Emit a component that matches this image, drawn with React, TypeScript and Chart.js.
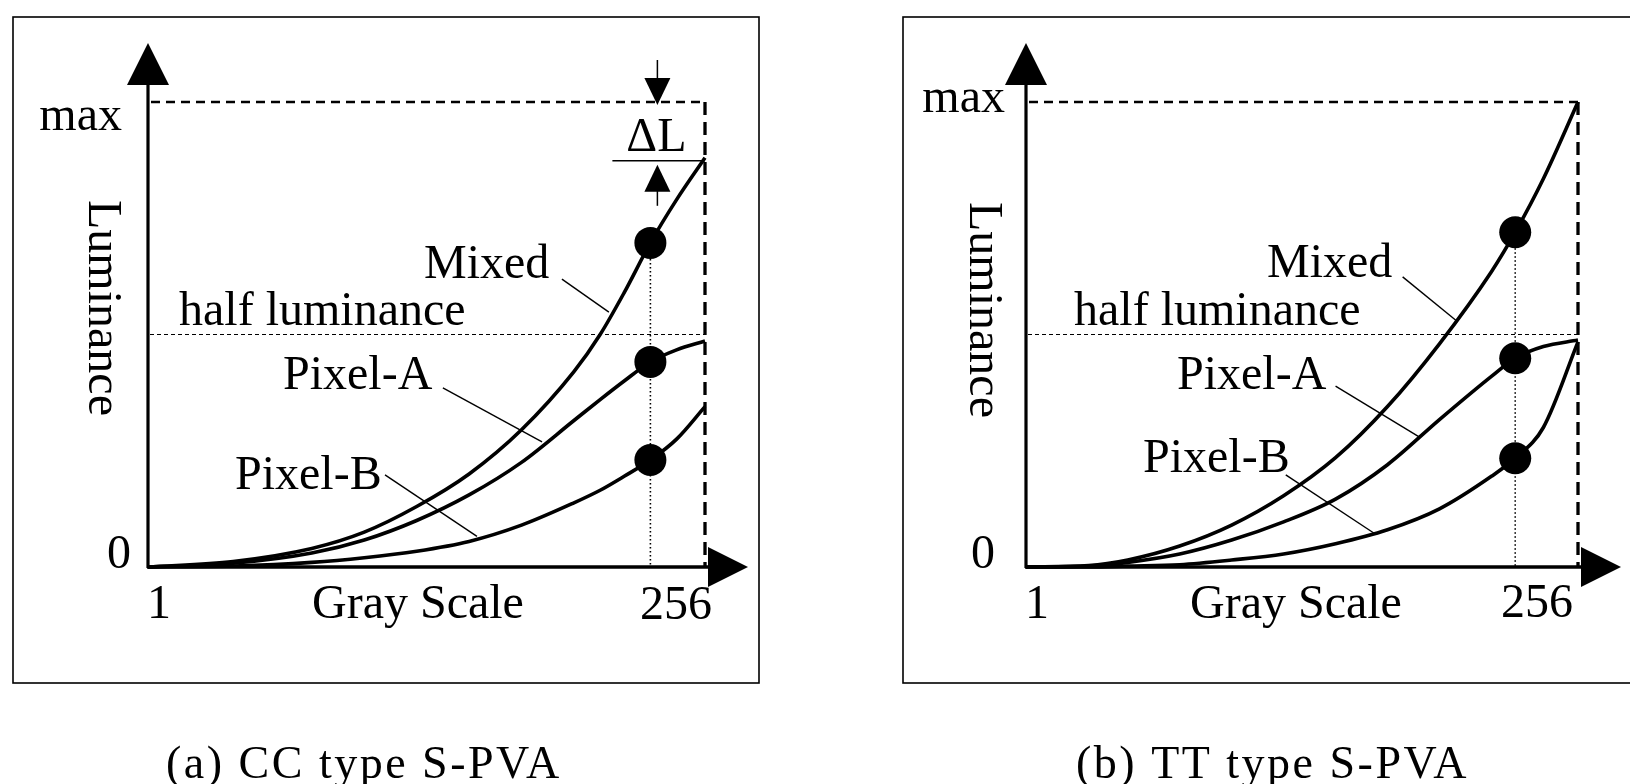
import React, { useEffect, useRef } from 'react';
import { Chart, registerables } from 'chart.js';
Chart.register(...registerables);

// ---------- DATA ----------
const seriesNames = ['Mixed', 'Pixel-A', 'Pixel-B'];
const xTickLabels = ['1', '256'];
const yTickLabels = ['0', 'max'];
const xTitle = 'Gray Scale';
const yTitle = 'Luminance';
const halfLabel = 'half luminance';
const halfLevel = 0.5;
const captions = ['(a) CC type S-PVA', '(b) TT type S-PVA'];

// (a) CC type
const grayCC = [1, 40, 76, 100, 124, 148, 172, 196, 208, 219, 231, 243, 256];
const mixedCC = [0, 0.012, 0.04, 0.075, 0.13, 0.2, 0.295, 0.42, 0.5, 0.59, 0.697, 0.79, 0.88];
const pixelACC = [0, 0.008, 0.03, 0.058, 0.1, 0.155, 0.225, 0.315, 0.36, 0.4, 0.441, 0.467, 0.486];
const pixelBCC = [0, 0.002, 0.01, 0.02, 0.034, 0.055, 0.09, 0.138, 0.165, 0.195, 0.23, 0.275, 0.345];
const markerGrayCC = 231;
const markerLumCC = [0.697, 0.441, 0.23];
// leader lines [gray1, lum1, gray2, lum2]
const leadersCC = [
  [190.5, 0.619, 212, 0.548],
  [136, 0.385, 181.4, 0.269],
  [109.5, 0.198, 151.6, 0.066],
];

// (b) TT type
const grayTT = [1, 30, 48, 72, 96, 120, 144, 168, 192, 216, 227, 240, 256];
const mixedTT = [0, 0.003, 0.015, 0.045, 0.09, 0.153, 0.235, 0.345, 0.48, 0.635, 0.72, 0.835, 1.0];
const pixelATT = [0, 0.002, 0.01, 0.028, 0.058, 0.097, 0.146, 0.22, 0.317, 0.41, 0.449, 0.474, 0.488];
const pixelBTT = [0, 0, 0.002, 0.005, 0.015, 0.028, 0.05, 0.08, 0.125, 0.195, 0.234, 0.3, 0.484];
const markerGrayTT = 227;
const markerLumTT = [0.72, 0.449, 0.234];
const leadersTT = [
  [175, 0.624, 199.7, 0.53],
  [144, 0.389, 182.6, 0.28],
  [121, 0.198, 162, 0.072],
];

// ---------- LAYOUT ----------
const W = 1630;
const H = 784;
const FONT = '48px "Liberation Serif", "Times New Roman", serif';

const layoutCC = {
  frame: [13, 17, 759, 683],
  area: { left: 148, top: 102, right: 705, bottom: 567 },
  maxLabel: [122, 130],
  zeroLabel: [131, 568],
  oneLabel: [147, 618],
  endLabel: [712, 619],
  xTitle: [312, 618],
  yTitle: [89, 308],
  seriesLabels: [[424, 278], [283, 389], [235, 489]],
  halfLabel: [179, 325],
  caption: [166, 778],
  delta: true,
};

const layoutTT = {
  frame: [903, 17, 1645, 683],
  area: { left: 1026, top: 102, right: 1578, bottom: 567 },
  maxLabel: [1005, 112],
  zeroLabel: [995, 568],
  oneLabel: [1025, 618],
  endLabel: [1573, 617],
  xTitle: [1190, 618],
  yTitle: [970, 310],
  seriesLabels: [[1267, 277], [1177, 389], [1143, 472]],
  halfLabel: [1074, 325],
  caption: [1076, 778],
  delta: false,
};

type Panel = {
  gray: number[];
  series: number[][];
  markerGray: number;
  markerLum: number[];
  leaders: number[][];
  layout: typeof layoutCC;
  caption: string;
};

const panels: Panel[] = [
  { gray: grayCC, series: [mixedCC, pixelACC, pixelBCC], markerGray: markerGrayCC, markerLum: markerLumCC, leaders: leadersCC, layout: layoutCC, caption: captions[0] },
  { gray: grayTT, series: [mixedTT, pixelATT, pixelBTT], markerGray: markerGrayTT, markerLum: markerLumTT, leaders: leadersTT, layout: layoutTT, caption: captions[1] },
];

function tri(ctx: CanvasRenderingContext2D, pts: number[][]) {
  ctx.beginPath();
  ctx.moveTo(pts[0][0], pts[0][1]);
  ctx.lineTo(pts[1][0], pts[1][1]);
  ctx.lineTo(pts[2][0], pts[2][1]);
  ctx.closePath();
  ctx.fill();
}

function line(ctx: CanvasRenderingContext2D, x1: number, y1: number, x2: number, y2: number, w: number, dash: number[] = []) {
  ctx.save();
  ctx.lineWidth = w;
  ctx.setLineDash(dash);
  ctx.beginPath();
  ctx.moveTo(x1, y1);
  ctx.lineTo(x2, y2);
  ctx.stroke();
  ctx.restore();
}

function makePlugin(p: Panel) {
  const L = p.layout;
  return {
    id: 'decor',
    beforeDatasetsDraw(chart: any) {
      const ctx: CanvasRenderingContext2D = chart.ctx;
      const xs = chart.scales.x;
      const ys = chart.scales.y;
      const x0 = xs.getPixelForValue(1);
      const x1 = xs.getPixelForValue(256);
      const y0 = ys.getPixelForValue(0);
      const yMax = ys.getPixelForValue(1);
      ctx.save();
      ctx.strokeStyle = '#000';
      ctx.fillStyle = '#000';
      // frame
      ctx.lineWidth = 1.6;
      const [fl, ft, fr, fb] = L.frame;
      ctx.strokeRect(fl, ft, fr - fl, fb - ft);
      // max dashed lines
      line(ctx, x0 + 3, yMax, x1, yMax, 2.5, [9, 6]);
      line(ctx, x1, yMax, x1, y0, 3.3, [13, 7]);
      // half luminance dotted line
      const yh = ys.getPixelForValue(halfLevel);
      line(ctx, x0 + 2, yh, x1, yh, 1.2, [4, 3]);
      // marker vertical dotted line
      const xm = xs.getPixelForValue(p.markerGray);
      line(ctx, xm, ys.getPixelForValue(p.markerLum[0]), xm, y0, 1.6, [1.6, 2.4]);
      // axes
      line(ctx, x0, y0 + 1, x0, yMax - 17, 3.2);
      line(ctx, x0 - 1, y0, x1 + 3, y0, 3.6);
      tri(ctx, [[x0 - 21, yMax - 17], [x0 + 21, yMax - 17], [x0, yMax - 59]]);
      tri(ctx, [[x1 + 3, y0 - 20], [x1 + 3, y0 + 20], [x1 + 43, y0]]);
      // leader lines
      p.leaders.forEach((l) => {
        line(ctx, xs.getPixelForValue(l[0]), ys.getPixelForValue(l[1]), xs.getPixelForValue(l[2]), ys.getPixelForValue(l[3]), 1.4);
      });
      ctx.restore();
    },
    afterDatasetsDraw(chart: any) {
      const ctx: CanvasRenderingContext2D = chart.ctx;
      const xs = chart.scales.x;
      const ys = chart.scales.y;
      const x1 = xs.getPixelForValue(256);
      const yMax = ys.getPixelForValue(1);
      ctx.save();
      ctx.fillStyle = '#000';
      ctx.strokeStyle = '#000';
      ctx.font = FONT;
      ctx.textBaseline = 'alphabetic';
      const t = (s: string, pos: number[], align: CanvasTextAlign) => {
        ctx.textAlign = align;
        ctx.fillText(s, pos[0], pos[1]);
      };
      t(yTickLabels[1], L.maxLabel, 'right');
      t(yTickLabels[0], L.zeroLabel, 'right');
      t(xTickLabels[0], L.oneLabel, 'left');
      t(xTickLabels[1], L.endLabel, 'right');
      t(xTitle, L.xTitle, 'left');
      t(halfLabel, L.halfLabel, 'left');
      seriesNames.forEach((n, i) => t(n, L.seriesLabels[i], 'left'));
      // y title rotated
      ctx.save();
      ctx.translate(L.yTitle[0], L.yTitle[1]);
      ctx.rotate(Math.PI / 2);
      ctx.textAlign = 'center';
      ctx.fillText(yTitle, 0, 0);
      ctx.restore();
      // delta L annotation
      if (L.delta) {
        const dx = xs.getPixelForValue(p.markerGray) + 7;
        const yEnd = ys.getPixelForValue(p.series[0][p.series[0].length - 1]) + 3;
        line(ctx, dx, yMax - 42, dx, yMax - 22, 1.5);
        tri(ctx, [[dx - 13, yMax - 24], [dx + 13, yMax - 24], [dx, yMax + 3]]);
        line(ctx, dx - 45, yEnd, x1, yEnd, 1.6);
        tri(ctx, [[dx, yEnd + 4], [dx - 13, yEnd + 31], [dx + 13, yEnd + 31]]);
        line(ctx, dx, yEnd + 30, dx, yEnd + 45, 1.5);
        ctx.textAlign = 'center';
        ctx.fillText('\u0394L', dx - 1, yMax + 49);
      }
      // caption
      ctx.font = '46px "Liberation Serif", "Times New Roman", serif';
      (ctx as any).letterSpacing = '2.5px';
      ctx.textAlign = 'left';
      ctx.fillText(p.caption, L.caption[0], L.caption[1]);
      ctx.restore();
    },
  };
}

function PanelChart({ panel }: { panel: Panel }) {
  const ref = useRef<HTMLCanvasElement | null>(null);
  useEffect(() => {
    if (!ref.current) return;
    const a = panel.layout.area;
    const datasets: any[] = panel.series.map((vals, i) => ({
      type: 'line',
      label: seriesNames[i],
      data: panel.gray.map((g, j) => ({ x: g, y: vals[j] })),
      borderColor: '#000',
      borderWidth: 3.6,
      pointRadius: 0,
      cubicInterpolationMode: 'monotone',
      fill: false,
      clip: false,
    }));
    datasets.push({
      type: 'line',
      label: 'markers',
      data: panel.markerLum.map((v) => ({ x: panel.markerGray, y: v })),
      showLine: false,
      pointRadius: 16,
      pointBackgroundColor: '#000',
      pointBorderWidth: 0,
      borderColor: '#000',
      clip: false,
    });
    const chart = new Chart(ref.current, {
      type: 'line',
      data: { datasets },
      options: {
        responsive: false,
        animation: false,
        events: [],
        layout: { padding: { left: a.left, top: a.top, right: W - a.right, bottom: H - a.bottom } },
        scales: {
          x: { type: 'linear', min: 1, max: 256, display: false },
          y: { type: 'linear', min: 0, max: 1, display: false },
        },
        plugins: { legend: { display: false }, tooltip: { enabled: false } },
      },
      plugins: [makePlugin(panel)],
    } as any);
    return () => chart.destroy();
  }, [panel]);
  return (
    <canvas
      ref={ref}
      width={W}
      height={H}
      style={{ position: 'absolute', left: 0, top: 0, width: W, height: H }}
    />
  );
}

export default function App() {
  return (
    <div style={{ position: 'fixed', left: 0, top: 0, width: W, height: H, background: '#fff', overflow: 'hidden' }}>
      {panels.map((p, i) => (
        <PanelChart key={i} panel={p} />
      ))}
    </div>
  );
}
